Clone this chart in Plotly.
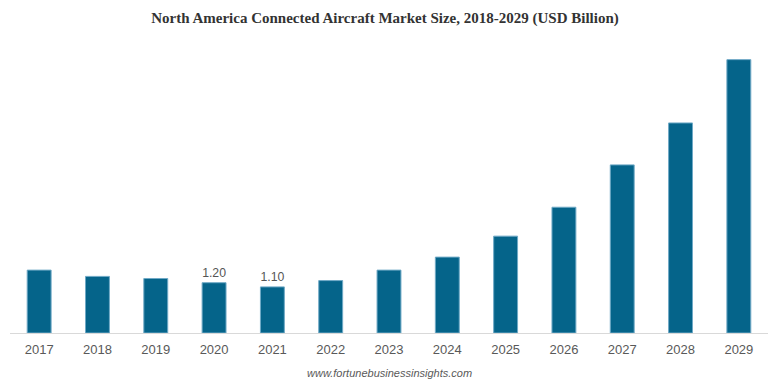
import plotly.graph_objects as go

years = ["2017", "2018", "2019", "2020", "2021", "2022", "2023", "2024", "2025", "2026", "2027", "2028", "2029"]
values = [1.50, 1.35, 1.30, 1.20, 1.10, 1.25, 1.50, 1.81, 2.31, 3.00, 4.01, 5.01, 6.52]
labels = ["", "", "", "1.20", "1.10", "", "", "", "", "", "", "", ""]

fig = go.Figure(go.Bar(
    x=years, y=values, text=labels, textposition="outside",
    textfont=dict(family="Liberation Sans, Arial", size=13, color="#555555"),
    cliponaxis=False,
    marker=dict(color="#05648A", line=dict(color="#6fa9c6", width=1)),
    hoverinfo="x+y",
))

fig.update_layout(
    width=770, height=385,
    margin=dict(l=10, r=2, t=50, b=52),
    paper_bgcolor="white", plot_bgcolor="white",
    bargap=0.59,
    showlegend=False,
    title=dict(text="<b>North America Connected Aircraft Market Size, 2018-2029 (USD Billion)</b>",
               x=0.5, xanchor="center", y=0.953, yanchor="middle",
               font=dict(family="Liberation Serif, Times New Roman", size=15, color="#333333")),
    xaxis=dict(showline=True, linecolor="#d9d9d9", linewidth=1, ticks="",
               ticklabelstandoff=4,
               tickfont=dict(family="Liberation Sans, Arial", size=13, color="#595959"),
               showgrid=False),
    yaxis=dict(visible=False, range=[0, 6.75], showgrid=False, zeroline=False),
    annotations=[dict(text="<i>www.fortunebusinessinsights.com</i>", x=0.5, xref="paper",
                      y=-(373 - 333) / (333 - 50), yref="paper", yanchor="middle", showarrow=False,
                      font=dict(family="Liberation Sans, Arial", size=11, color="#595959"))],
)

fig.write_html("out.html", config={"displayModeBar": False},
               post_script="document.body.style.margin='0';document.body.style.overflow='hidden';")
